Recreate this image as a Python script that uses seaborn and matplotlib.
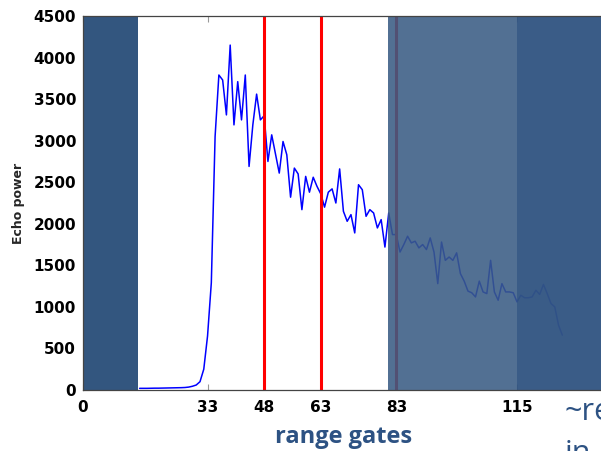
import numpy as np
import pandas as pd
import matplotlib
matplotlib.use("Agg")
import matplotlib.pyplot as plt
import seaborn as sns

# ---- data ----
gates = list(range(15, 128))
power = [20, 20, 20, 21, 22, 22, 23, 24, 25, 26, 27,            # 15-25
         28, 30, 35, 45, 60, 100, 250, 650, 1290, 3050,          # 26-35
         3790, 3730, 3310, 4150, 3190, 3710, 3250, 3790, 2690, 3190,  # 36-45
         3560, 3250, 3300, 2750, 3070, 2840, 2610, 2990, 2830, 2320,  # 46-55
         2670, 2600, 2170, 2570, 2380, 2560, 2450, 2360, 2200, 2380,  # 56-65
         2420, 2250, 2660, 2150, 2030, 2110, 1890, 2470, 2410, 2090,  # 66-75
         2170, 2130, 1950, 2050, 1720, 2130, 1870, 1870, 1660, 1750,  # 76-85
         1850, 1770, 1790, 1710, 1750, 1690, 1830, 1660, 1280, 1780,  # 86-95
         1560, 1600, 1560, 1650, 1400, 1310, 1190, 1170, 1120, 1310,  # 96-105
         1180, 1160, 1560, 1180, 1080, 1280, 1180, 1180, 1170, 1060,  # 106-115
         1140, 1110, 1110, 1120, 1200, 1150, 1270, 1160, 1040, 1000,  # 116-125
         780, 660]                                                    # 126-127
red_lines = [48, 63, 83]
xticks = [0, 33, 48, 63, 83, 115]
yticks = list(range(0, 4501, 500))
left_block = (0, 14.6)
mid_block = (80.8, 115)
right_block = (115, 145)

df = pd.DataFrame({"gate": gates, "power": power})

sns.set_style("ticks")
plt.rcParams["font.family"] = ["DejaVu Sans"]

fig = plt.figure(figsize=(6.01, 4.51), dpi=100)
ax = fig.add_axes([83 / 601, 61 / 451, 528 / 601, 374 / 451])

sns.lineplot(data=df, x="gate", y="power", ax=ax, color="#0000ff", lw=1.1, zorder=2)
for xv in red_lines:
    ax.axvline(xv, color="#ff0000", lw=2.2, zorder=2)

ax.axvspan(*left_block, color="#33567f", alpha=1.0, lw=0, zorder=3)
ax.axvspan(*mid_block, color="#3a5c84", alpha=0.88, lw=0, zorder=3)
ax.axvspan(*right_block, color="#325582", alpha=0.96, lw=0, zorder=3)

ax.set_xlim(0, 139.9)
ax.set_ylim(0, 4500)
ax.set_xticks(xticks)
ax.set_xticklabels([str(t) for t in xticks], fontsize=11, fontweight="bold")
ax.set_yticks(yticks)
ax.set_yticklabels([str(t) for t in yticks], fontsize=11, fontweight="bold")
ax.tick_params(direction="in", length=4, width=0.8, top=True, right=False,
               colors="#999999", labelcolor="black")
ax.tick_params(axis="x", pad=7)
ax.tick_params(axis="y", pad=5)
ax.set_xlabel("")
ax.set_ylabel("Echo power", fontsize=9, fontweight="bold", labelpad=6)
for s in ["top", "bottom", "left"]:
    ax.spines[s].set_color("#444444")
    ax.spines[s].set_linewidth(0.9)
    ax.spines[s].set_zorder(4)
ax.spines["right"].set_visible(False)

fig.text(344 / 601, 1 - 443 / 451, "range gates", ha="center", va="baseline",
         fontsize=17, fontweight="bold", color="#2d5283", family="Open Sans")
fig.text(565 / 601, 1 - 420 / 451, "~re", ha="left", va="baseline",
         fontsize=22, color="#2d5283", family="Open Sans")
fig.text(565 / 601, 1 - 462 / 451, "in", ha="left", va="baseline",
         fontsize=22, color="#2d5283", family="Open Sans")

fig.savefig("out.png", dpi=100)
